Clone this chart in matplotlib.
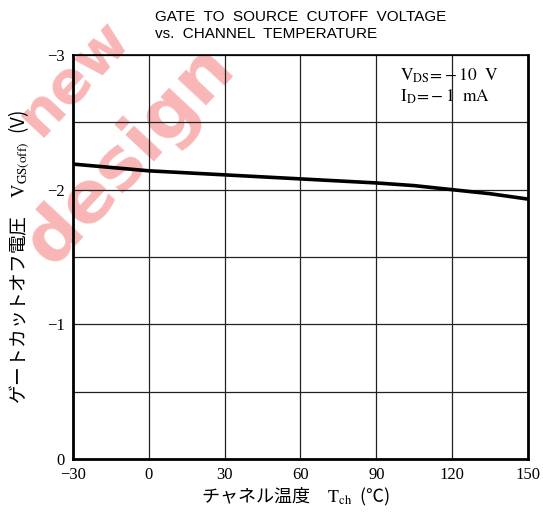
import numpy as np
import matplotlib
matplotlib.use("Agg")
from matplotlib import pyplot as plt

# data
temp = [-30, 0, 30, 60, 90, 105, 120, 135, 150]
vgs_off = [-2.19, -2.14, -2.11, -2.08, -2.05, -2.03, -2.00, -1.97, -1.93]

x_ticks = [-30, 0, 30, 60, 90, 120, 150]
x_labels = ["\u221230", "0", "30", "60", "90", "120", "150"]
y_ticks = [-3, -2, -1, 0]
y_labels = ["\u22123", "\u22122", "\u22121", "0"]

plt.rcParams["mathtext.fontset"] = "stix"
serif = ["Liberation Serif", "Noto Sans CJK JP"]
jp = ["Noto Sans CJK JP", "DejaVu Sans"]

fig = plt.figure(figsize=(5.43, 5.17), dpi=100)
ax = fig.add_axes([0.1344, 0.1122, 0.838, 0.7814])
ax.patch.set_alpha(0)

# watermark behind everything
fig.text(0.135, 0.85, "new", rotation=47, fontsize=42, fontweight="bold",
         color="#f9b6b6", ha="center", va="center", zorder=-5, family="DejaVu Sans")
fig.text(0.24, 0.7, "design", rotation=47, fontsize=52, fontweight="bold",
         color="#f9b6b6", ha="center", va="center", zorder=-5, family="DejaVu Sans")

ax.plot(temp, vgs_off, color="black", lw=2.6, zorder=3)

ax.set_xlim(-30, 150)
ax.set_ylim(0, -3)
ax.grid(True, color="#222222", lw=0.9)
ax.set_xticks(x_ticks)
ax.set_xticklabels(x_labels, family=serif, fontsize=12)
grid_y = np.arange(-3, 0.01, 0.5)
ax.set_yticks(grid_y)
ax.set_yticklabels([y_labels[y_ticks.index(int(v))] if v == int(v) else "" for v in grid_y],
                   family=serif, fontsize=12)
ax.tick_params(length=0, pad=6)

for side in ["left", "bottom", "right"]:
    ax.spines[side].set_linewidth(2)
ax.spines["top"].set_linewidth(1.2)

ax.text(0.719, 0.948, r"$\mathrm{V_{DS}\!=\!-10\ \ V}$", transform=ax.transAxes,
        fontsize=12.5, ha="left", va="center")
ax.text(0.719, 0.896, r"$\mathrm{I_{D}\!=\!-1\ \ mA}$", transform=ax.transAxes,
        fontsize=12.5, ha="left", va="center")

fig.text(0.285, 0.968, "GATE  TO  SOURCE  CUTOFF  VOLTAGE", fontsize=11,
         family="Liberation Sans", ha="left", va="center")
fig.text(0.285, 0.935, "vs.  CHANNEL  TEMPERATURE", fontsize=11,
         family="Liberation Sans", ha="left", va="center")

fig.text(0.035, 0.503, "ゲートカットオフ電圧　" + r"$\mathrm{V_{GS(off)}}$" + "  (V)",
         rotation=90, fontsize=13.5, family=jp, ha="center", va="center")
fig.text(0.545, 0.038, "チャネル温度　" + r"$\mathrm{T_{ch}}$" + "  (℃)",
         fontsize=13, family=jp, ha="center", va="center")

fig.savefig("out.png", dpi=100)
